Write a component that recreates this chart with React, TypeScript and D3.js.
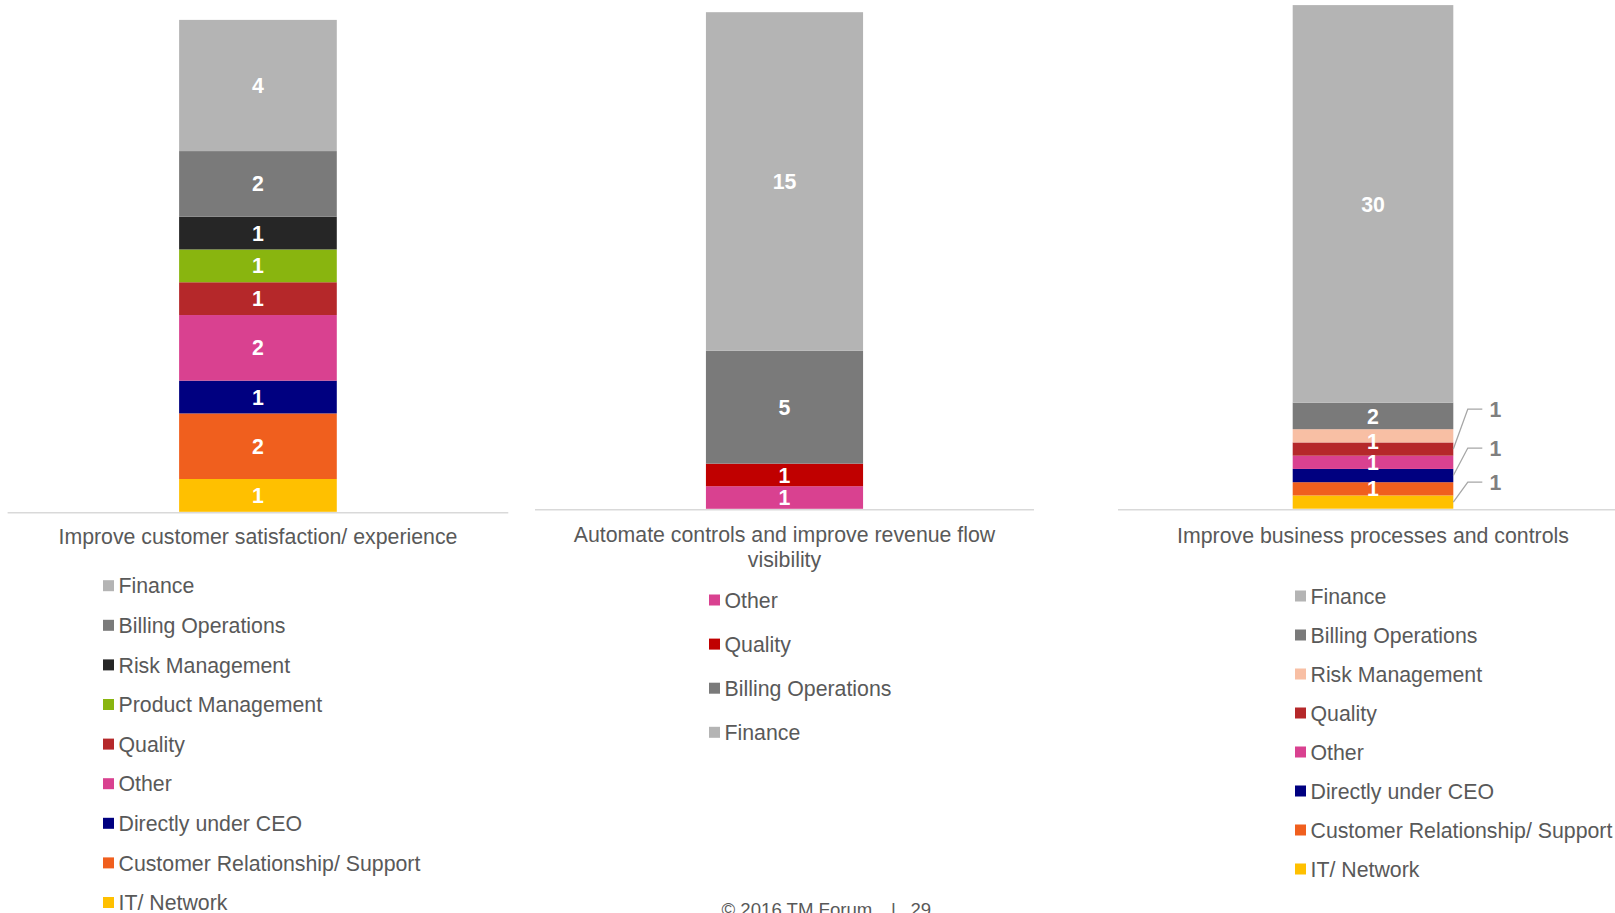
import React from "react";
import * as d3 from "d3";

// ---- Data (stack order: bottom -> top) ----
const chart1Title = ["Improve customer satisfaction/ experience"];
const chart1Series = [
  "IT/ Network",
  "Customer Relationship/ Support",
  "Directly under CEO",
  "Other",
  "Quality",
  "Product Management",
  "Risk Management",
  "Billing Operations",
  "Finance",
];
const chart1Values = [1, 2, 1, 2, 1, 1, 1, 2, 4];
const chart1Colors = ["#ffc000", "#f05f1e", "#000080", "#d94190", "#b5282a", "#89b50f", "#262626", "#7a7a7a", "#b4b4b4"];
const chart1Legend = [
  "Finance",
  "Billing Operations",
  "Risk Management",
  "Product Management",
  "Quality",
  "Other",
  "Directly under CEO",
  "Customer Relationship/ Support",
  "IT/ Network",
];

const chart2Title = ["Automate controls and improve revenue flow", "visibility"];
const chart2Series = ["Other", "Quality", "Billing Operations", "Finance"];
const chart2Values = [1, 1, 5, 15];
const chart2Colors = ["#d94190", "#c00000", "#7a7a7a", "#b4b4b4"];
const chart2Legend = ["Other", "Quality", "Billing Operations", "Finance"];

const chart3Title = ["Improve business processes and controls"];
const chart3Series = [
  "IT/ Network",
  "Customer Relationship/ Support",
  "Directly under CEO",
  "Other",
  "Quality",
  "Risk Management",
  "Billing Operations",
  "Finance",
];
const chart3Values = [1, 1, 1, 1, 1, 1, 2, 30];
const chart3Colors = ["#ffc000", "#f05f1e", "#000080", "#d94190", "#b5282a", "#f8bfa4", "#7a7a7a", "#b4b4b4"];
const chart3Legend = [
  "Finance",
  "Billing Operations",
  "Risk Management",
  "Quality",
  "Other",
  "Directly under CEO",
  "Customer Relationship/ Support",
  "IT/ Network",
];
// series whose labels are drawn outside with leader lines (chart 3)
const chart3Outside = ["IT/ Network", "Directly under CEO", "Quality"];

const footerText = ["© 2016 TM Forum", "|", "29"];

const FONT = "'Liberation Sans', Arial, sans-serif";
const TEXT = "#595959";
const FS = 21.3;

type Panel = {
  title: string[];
  series: string[];
  values: number[];
  colors: string[];
  legend: string[];
  outside?: string[];
  outsideOffsets?: number[];
  nudge?: Record<string, number>;
  axisX: [number, number];
  axisY: number;
  top: number;
  titleY: number;
  legendX: number;
  legendY: number;
  legendStep: number;
};

const panels: Panel[] = [
  {
    title: chart1Title,
    series: chart1Series,
    values: chart1Values,
    colors: chart1Colors,
    legend: chart1Legend,
    axisX: [7.6, 508.3],
    axisY: 511.8,
    top: 19.9,
    titleY: 544,
    legendX: 103,
    legendY: 585.7,
    legendStep: 39.6,
  },
  {
    title: chart2Title,
    series: chart2Series,
    values: chart2Values,
    colors: chart2Colors,
    legend: chart2Legend,
    axisX: [535, 1034],
    axisY: 508.8,
    top: 12.2,
    titleY: 542,
    legendX: 709,
    legendY: 600,
    legendStep: 44.1,
  },
  {
    title: chart3Title,
    series: chart3Series,
    values: chart3Values,
    colors: chart3Colors,
    legend: chart3Legend,
    outside: chart3Outside,
    outsideOffsets: [-20, -27.5, -40],
    nudge: { "Risk Management": 6 },
    axisX: [1118, 1628],
    axisY: 508.7,
    top: 5.1,
    titleY: 543,
    legendX: 1295,
    legendY: 596,
    legendStep: 39.0,
  },
];

function StackPanel({ p }: { p: Panel }) {
  const total = d3.sum(p.values);
  const y = d3.scaleLinear().domain([0, total]).range([p.axisY, p.top]);
  const key = p.title.join(" ");
  const x = d3.scaleBand<string>().domain([key]).range(p.axisX).paddingInner(0.521).paddingOuter(0.521);
  const bx = x(key)!;
  const bw = x.bandwidth();
  const cx = bx + bw / 2;
  const stack = d3.stack<any>().keys(p.series)([Object.fromEntries(p.series.map((s, i) => [s, p.values[i]]))]);
  const colorOf = d3.scaleOrdinal<string, string>().domain(p.series).range(p.colors);
  const capHalf = FS * 0.716 / 2;

  let outIdx = 0;
  return (
    <g>
      {stack.map((layer) => {
        const [y0, y1] = layer[0];
        return (
          <rect
            key={layer.key}
            x={bx}
            y={y(y1)}
            width={bw}
            height={y(y0) - y(y1)}
            fill={colorOf(layer.key)}
          />
        );
      })}
      <line x1={p.axisX[0]} x2={p.axisX[1]} y1={p.axisY + 1} y2={p.axisY + 1} stroke="#d9d9d9" strokeWidth={1.5} />
      {stack.map((layer) => {
        const [y0, y1] = layer[0];
        const my = (y(y0) + y(y1)) / 2;
        const isOut = p.outside && p.outside.includes(layer.key);
        if (isOut) {
          const off = p.outsideOffsets![outIdx++];
          const ly = my + off;
          const ex = bx + bw;
          return (
            <g key={"l" + layer.key}>
              <polyline
                points={`${ex},${my} ${ex + 14.5},${ly} ${ex + 29},${ly}`}
                fill="none"
                stroke="#a6a6a6"
                strokeWidth={1.3}
              />
              <text
                x={ex + 42}
                y={ly + capHalf}
                textAnchor="middle"
                fontFamily={FONT}
                fontWeight="bold"
                fontSize={FS}
                fill="#7f7f7f"
              >
                {layer[0].data[layer.key]}
              </text>
            </g>
          );
        }
        const n = (p.nudge && p.nudge[layer.key]) || 0;
        return (
          <text
            key={"l" + layer.key}
            x={cx}
            y={my + capHalf + n}
            textAnchor="middle"
            fontFamily={FONT}
            fontWeight="bold"
            fontSize={FS}
            fill="#ffffff"
          >
            {layer[0].data[layer.key]}
          </text>
        );
      })}
      {p.title.map((t, i) => (
        <text
          key={"t" + i}
          x={cx}
          y={p.titleY + i * 24.5}
          textAnchor="middle"
          fontFamily={FONT}
          fontSize={FS}
          fill={TEXT}
        >
          {t}
        </text>
      ))}
      {p.legend.map((name, i) => {
        const ly = p.legendY + i * p.legendStep;
        return (
          <g key={"g" + name}>
            <rect x={p.legendX} y={ly - 5.5} width={11} height={11} fill={colorOf(name)} />
            <text x={p.legendX + 15.5} y={ly + capHalf} fontFamily={FONT} fontSize={FS} fill={TEXT}>
              {name}
            </text>
          </g>
        );
      })}
    </g>
  );
}

export default function App() {
  return (
    <svg
      width={1615}
      height={913}
      style={{ position: "absolute", left: 0, top: 0, display: "block", background: "#ffffff" }}
    >
      <rect x={0} y={0} width={1615} height={913} fill="#ffffff" />
      {panels.map((p, i) => (
        <StackPanel key={i} p={p} />
      ))}
      <text x={721.5} y={916} fontFamily={FONT} fontSize={18.6} fill={TEXT}>
        {footerText[0]}
      </text>
      <text x={891} y={916} fontFamily={FONT} fontSize={18.6} fill={TEXT}>
        {footerText[1]}
      </text>
      <text x={910.5} y={916} fontFamily={FONT} fontSize={18.6} fill={TEXT}>
        {footerText[2]}
      </text>
    </svg>
  );
}
